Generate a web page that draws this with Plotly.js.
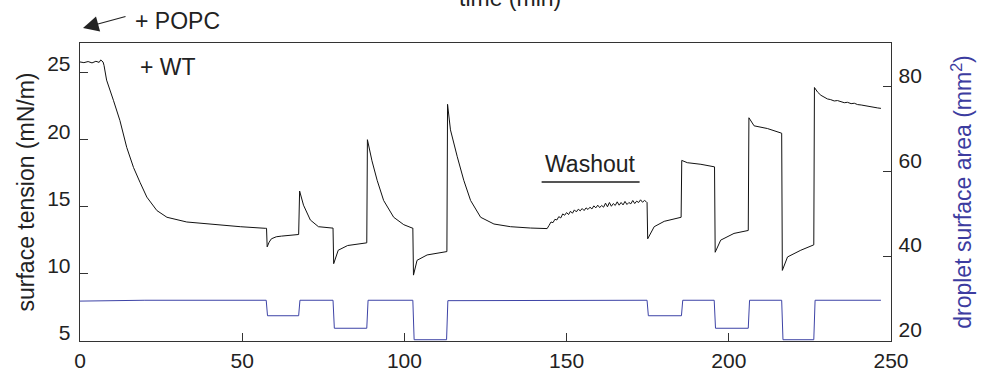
<!DOCTYPE html>
<html>
<head>
<meta charset="utf-8">
<script src="https://cdn.plot.ly/plotly-3.0.1.min.js"></script>
<style>html,body{margin:0;padding:0;background:#fff;}#chart{width:992px;height:374px;}</style>
</head>
<body>
<div id="chart"></div>
<script>
// Surface tension (mN/m) vs time (min)
const tensionTime = [0, 1.2, 2.5, 3.7, 4.9, 5.9, 6.4, 7.1, 7.4, 8.2, 10.3, 12.3, 14.4, 16.5, 18.5, 20.6, 23.7, 26.8, 32.9, 41.1, 49.4, 57.1, 57.5,
  57.7, 58.3, 59.0, 60.5, 62.1, 64.0, 67.4,
  67.7, 68.9, 71.0, 73.5, 77.7, 78.0,
  78.2, 79.6, 82.5, 88.0, 88.4,
  88.6, 90.0, 91.6, 93.6, 96.7, 99.8, 102.4, 102.6,
  102.8, 103.9, 107.0, 113.0, 113.1,
  113.3, 114.2, 116.3, 118.3, 120.4, 123.5, 127.6, 132.7, 138.9, 144.0,
  144.6, 145.2, 145.8, 146.4, 147.0, 147.6, 148.2, 148.8, 149.4, 150.0, 150.6, 151.2, 151.8, 152.4, 153.0, 153.6, 154.2, 154.8, 155.4, 156.0,
  156.6, 157.2, 157.8, 158.4, 159.0, 159.6, 160.2, 160.8, 161.4, 162.0, 162.6, 163.2, 163.8, 164.4, 165.0, 165.6, 166.2, 166.8, 167.4, 168.0,
  168.6, 169.2, 169.8, 170.4, 171.0, 171.6, 172.2, 172.8, 173.4, 174.0, 174.6, 174.8,
  175.0, 177.0, 180.1, 184.7, 185.3,
  185.5, 187.2, 191.4, 195.4, 195.6,
  195.8, 197.5, 201.6, 205.8, 206.0,
  206.2, 207.8, 211.9, 216.0, 216.3,
  216.5, 218.1, 222.2, 226.1, 226.2,
  226.4, 227.4, 228.4, 229.4, 230.4, 231.4, 232.5, 233.5, 234.6, 235.6, 236.6, 237.7, 238.7, 239.7, 240.8, 241.8, 242.8, 243.9, 244.9, 245.9, 246.9];
const tensionValue = [25.75, 25.7, 25.78, 25.68, 25.8, 25.72, 25.9, 25.75, 25.5, 24.4, 22.9, 21.4, 19.4, 17.9, 16.8, 15.7, 14.7, 14.2, 13.85, 13.65, 13.5, 13.38, 13.38,
  12.0, 12.35, 12.6, 12.75, 12.8, 12.85, 12.92,
  16.15, 15.1, 14.0, 13.5, 13.4, 13.4,
  10.75, 11.75, 12.1, 12.3, 12.3,
  19.97, 18.4, 16.95, 15.45, 14.2, 13.65, 13.4, 13.4,
  9.9, 11.0, 11.4, 11.6, 11.65,
  22.6, 20.7, 18.7, 16.95, 15.45, 14.2, 13.7, 13.5, 13.4, 13.36,
  13.6, 13.85, 13.8, 14.05, 14.0, 14.25, 14.15, 14.45, 14.35, 14.55, 14.4, 14.65, 14.5, 14.75, 14.6, 14.8, 14.68, 14.85, 14.7, 14.9,
  14.78, 14.95, 14.82, 15.05, 14.9, 15.1, 14.92, 15.08, 14.95, 15.25, 14.98, 15.3, 15.02, 15.22, 15.08, 15.35, 15.1, 15.3, 15.12, 15.38,
  15.15, 15.3, 15.2, 15.45, 15.22, 15.4, 15.3, 15.5, 15.32, 15.45, 15.35, 15.3,
  12.6, 13.5, 13.9, 14.15, 14.2,
  18.43, 18.26, 18.14, 18.0, 17.95,
  11.6, 12.5, 13.0, 13.2, 13.22,
  21.6, 21.0, 20.8, 20.5, 20.45,
  10.25, 11.25, 11.75, 12.1, 12.15,
  23.85, 23.5, 23.27, 23.15, 23.0, 22.95, 22.85, 22.88, 22.8, 22.72, 22.75, 22.65, 22.68, 22.58, 22.55, 22.5, 22.45, 22.42, 22.38, 22.33, 22.3];

// Droplet surface area (mm^2) vs time (min)
const areaTime = [0, 20, 57.4, 57.8, 67.4, 67.8, 78.0, 78.4, 88.4, 88.8, 102.6, 103.0, 113.0, 113.4, 174.8, 175.2, 185.4, 185.8, 195.5, 195.9, 206.0, 206.4, 216.3, 216.7, 226.2, 226.6, 246.9];
const areaValue = [29.4, 29.6, 29.6, 25.95, 25.95, 29.6, 29.6, 23.0, 23.0, 29.6, 29.6, 20.3, 20.3, 29.5, 29.6, 25.95, 25.95, 29.6, 29.6, 23.0, 23.0, 29.6, 29.6, 20.3, 20.3, 29.6, 29.6];

const xTicks = [0, 50, 100, 150, 200, 250];
const leftTicks = [5, 10, 15, 20, 25];
const rightTicks = [20, 40, 60, 80];

const FONT = 'Liberation Sans, Arial, Helvetica, sans-serif';
const BLUE = '#3c3ca0';

const traces = [
  {x: tensionTime, y: tensionValue, type: 'scatter', mode: 'lines', line: {color: '#111', width: 1}, yaxis: 'y', hoverinfo: 'skip'},
  {x: areaTime, y: areaValue, type: 'scatter', mode: 'lines', line: {color: '#3d43a6', width: 1}, yaxis: 'y2', hoverinfo: 'skip'}
];

const layout = {
  width: 992, height: 374,
  margin: {l: 80, r: 101, t: 43, b: 33},
  paper_bgcolor: '#fff', plot_bgcolor: '#fff',
  showlegend: false,
  font: {family: FONT, size: 21, color: '#222'},
  xaxis: {
    range: [0, 250], tickvals: xTicks, ticktext: xTicks.map(String),
    ticks: 'inside', ticklen: 8, tickcolor: '#333', tickwidth: 1,
    showline: true, linecolor: '#333', linewidth: 1.3, mirror: true,
    showgrid: false, zeroline: false, tickfont: {size: 21, color: '#222'}
  },
  yaxis: {
    range: [5, 27.16], tickvals: leftTicks, ticktext: leftTicks.map(String),
    ticks: 'inside', ticklen: 8, tickcolor: '#333',
    showline: true, linecolor: '#333', linewidth: 1.3,
    showgrid: false, zeroline: false, tickfont: {size: 21, color: '#222'},
    ticklabelshift: -8, ticklabelstandoff: 4,
    title: {text: 'surface tension (mN/m)', font: {size: 23, color: '#222'}, standoff: 6}
  },
  yaxis2: {
    overlaying: 'y', side: 'right',
    range: [20, 90.2], tickvals: rightTicks, ticktext: rightTicks.map(String),
    ticks: 'inside', ticklen: 8, tickcolor: '#333',
    showline: true, linecolor: '#333', linewidth: 1.3,
    showgrid: false, zeroline: false, tickfont: {size: 21, color: '#222'},
    ticklabelshift: -11, ticklabelstandoff: 2,
    title: {text: 'droplet surface area (mm<sup>2</sup>)', font: {size: 23, color: BLUE}, standoff: 34}
  },
  annotations: [
    {xref: 'paper', yref: 'paper', x: 0.530, y: 1.100, xanchor: 'center', yanchor: 'bottom', text: 'time (min)', showarrow: false, font: {size: 23, color: '#222'}},
    {xref: 'x', yref: 'paper', x: 0.93, y: 1.050, text: '', showarrow: true, ax: 44, ay: -12, arrowhead: 2, arrowsize: 2.6, arrowwidth: 1.2, arrowcolor: '#222'},
    {xref: 'paper', yref: 'paper', x: 0.0650, y: 1.0745, xanchor: 'left', yanchor: 'middle', text: '+ POPC', showarrow: false, font: {size: 23, color: '#222'}},
    {xref: 'x', yref: 'y', x: 17.9, y: 25.37, xanchor: 'left', yanchor: 'middle', text: '+ WT', showarrow: false, font: {size: 23, color: '#222'}},
    {xref: 'x', yref: 'y', x: 157.4, y: 18.19, xanchor: 'center', yanchor: 'middle', text: 'Washout', showarrow: false, font: {size: 23, color: '#222'}}
  ],
  shapes: [
    {type: 'line', xref: 'x', yref: 'y', x0: 142.3, x1: 172.5, y0: 16.82, y1: 16.82, line: {color: '#555', width: 2}}
  ]
};

Plotly.newPlot('chart', traces, layout, {staticPlot: true, displayModeBar: false});
</script>
</body>
</html>
